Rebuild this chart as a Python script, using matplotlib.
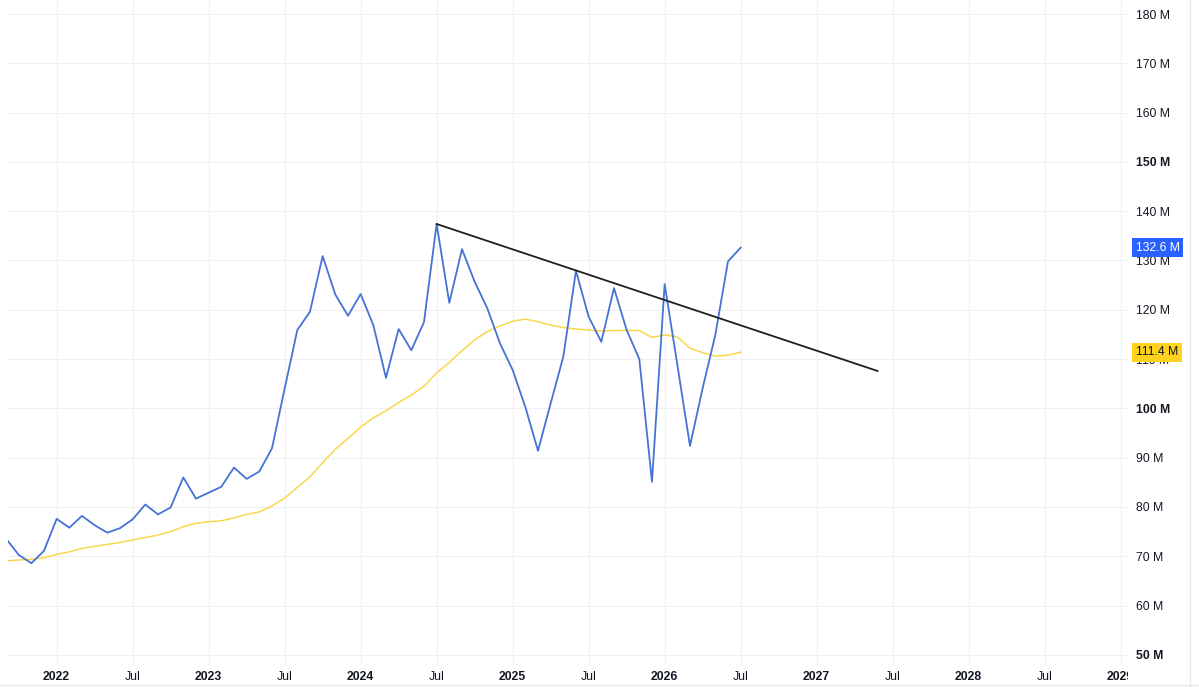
import numpy as np
import matplotlib.pyplot as plt
from matplotlib.patches import Rectangle

# === Données (mensuelles, sep 2021 -> jul 2026), en millions ===
valeurs = [73.6, 70.3, 68.6, 71.1,
           77.6, 75.8, 78.2, 76.3, 74.8, 75.7, 77.5, 80.5, 78.5, 79.9, 86.0, 81.7,
           82.9, 84.1, 88.0, 85.7, 87.2, 91.9, 104.0, 115.9, 119.6, 130.9, 123.1, 118.8,
           123.2, 116.9, 106.2, 116.1, 111.8, 117.5, 137.4, 121.4, 132.3, 125.7, 120.3, 113.2,
           107.8, 100.3, 91.4, 101.0, 110.5, 127.9, 118.6, 113.5, 124.4, 115.9, 110.0, 85.1,
           125.2, 108.9, 92.4, 104.1, 114.9, 129.8, 132.6]

moyenne = [69.05, 69.25, 69.4, 69.7,
           70.4, 70.9, 71.6, 72.0, 72.4, 72.8, 73.3, 73.8, 74.3, 75.0, 76.0, 76.7,
           77.0, 77.2, 77.8, 78.5, 79.0, 80.2, 81.8, 84.0, 86.1, 89.0, 91.7, 93.9,
           96.2, 98.1, 99.5, 101.2, 102.7, 104.5, 107.2, 109.3, 111.7, 113.9, 115.6, 116.7,
           117.7, 118.1, 117.6, 116.9, 116.4, 116.1, 115.9, 115.7, 115.8, 115.8, 115.8, 114.4,
           114.9, 114.5, 112.2, 111.3, 110.6, 110.8, 111.4]

# ligne de tendance : (index du mois, valeur)
tendance_x = [34, 68.8]
tendance_y = [137.4, 107.6]

# graduations de l'axe du temps (index 0 = sep 2021)
ticks_x = [4, 10, 16, 22, 28, 34, 40, 46, 52, 58, 64, 70, 76, 82, 88]
labels_x = ['2022', 'Jul', '2023', 'Jul', '2024', 'Jul', '2025', 'Jul',
            '2026', 'Jul', '2027', 'Jul', '2028', 'Jul', '2029']
ticks_y = list(range(50, 190, 10))

mois = np.arange(len(valeurs))

plt.rcParams['font.family'] = ['Liberation Sans', 'DejaVu Sans']
taille = 8.8

# === Affichage ===
W, H = 1199, 687
fig = plt.figure(figsize=(W / 100, H / 100), dpi=100)
ax = fig.add_axes([8 / W, 1 - 665 / H, (1128 - 8) / W, 665 / H])

ax.plot(mois, moyenne, color='#f6d84c', linewidth=1.1, zorder=3)
ax.plot(mois, valeurs, color='#4672d6', linewidth=1.3, zorder=4)
ax.plot(tendance_x, tendance_y, color='#1f1f1f', linewidth=1.3, zorder=5)

ax.set_xlim(0.16, 88.58)
ax.set_ylim(47.95, 182.84)

ax.set_xticks(ticks_x)
ax.set_xticklabels(labels_x)
ax.set_yticks(ticks_y)
ax.set_yticklabels([f'{v} M' for v in ticks_y])
ax.yaxis.tick_right()
ax.tick_params(axis='y', length=0, pad=6, labelsize=taille, labelcolor='#131722')
ax.tick_params(axis='x', length=0, pad=4.5, labelsize=taille, labelcolor='#131722')

# le libellé 2029 est coupé au bord de l'échelle de prix
zone = Rectangle((0, 0), 1128 / W, 1, transform=fig.transFigure)
for t in ax.get_xticklabels():
    if t.get_text() != 'Jul':
        t.set_fontweight('bold')
    t.set_clip_path(zone)
for t in ax.get_yticklabels():
    if t.get_text() in ('50 M', '100 M', '150 M'):
        t.set_fontweight('bold')

ax.grid(True, color='#eef0f4', linewidth=0.8, zorder=0)
for s in ax.spines.values():
    s.set_visible(False)

# étiquettes de dernière valeur
for val, fond, texte in [(valeurs[-1], '#2962ff', 'white'), (moyenne[-1], '#ffd21e', '#131722')]:
    ax.annotate(f'{val:.1f} M', xy=(1, val), xycoords=('axes fraction', 'data'),
                xytext=(5.5, 0), textcoords='offset points', va='center', ha='left',
                fontsize=taille, color=texte, zorder=10, annotation_clip=False,
                bbox=dict(boxstyle='square,pad=0.3', fc=fond, ec='none'))

# bordures légères
fig.add_artist(plt.Line2D([1190 / W, 1190 / W], [0, 1], color='#e6e8ec', linewidth=1))
fig.add_artist(plt.Line2D([0, 1], [1 - 685 / H, 1 - 685 / H], color='#e6e8ec', linewidth=1))

plt.savefig('out.png', dpi=100)
